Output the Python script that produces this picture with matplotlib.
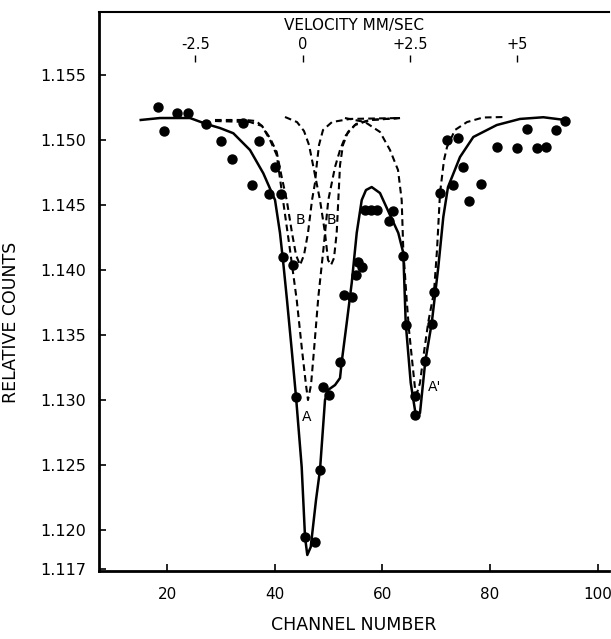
import matplotlib
matplotlib.use("Agg")
import matplotlib.pyplot as plt

# Points mesurés (canal, comptage relatif)
chan_pts = [18.27, 19.44, 21.91, 23.96, 27.30, 30.03, 32.07, 34.06, 35.78, 37.14,
            38.94, 40.11, 41.17, 41.45, 43.34, 44.01, 45.63, 47.48, 48.41, 49.03,
            50.14, 52.07, 52.78, 54.41, 55.04, 55.51, 56.21, 56.77, 57.83, 58.94,
            61.26, 61.97, 63.88, 64.38, 66.11, 66.05, 67.97, 69.16, 69.58, 70.70,
            71.94, 73.17, 74.09, 74.97, 76.08, 78.31, 81.23, 85.05, 86.91, 88.65,
            90.38, 92.18, 93.91]
count_pts = [1.15252, 1.15069, 1.15210, 1.15210, 1.15123, 1.14995, 1.14852, 1.15128, 1.14650, 1.14995,
             1.14588, 1.14792, 1.14588, 1.14098, 1.14038, 1.13023, 1.11944, 1.11910, 1.12462, 1.13098,
             1.13035, 1.13292, 1.13804, 1.13792, 1.13962, 1.14058, 1.14023, 1.14462, 1.14462, 1.14462,
             1.14379, 1.14456, 1.14110, 1.13577, 1.13031, 1.12885, 1.13300, 1.13582, 1.13827, 1.14595,
             1.15000, 1.14654, 1.15018, 1.14795, 1.14528, 1.14659, 1.14948, 1.14941, 1.15082, 1.14941,
             1.14946, 1.15077, 1.15146]

# Courbe ajustée (trait plein)
fit_ch = [15.12, 18.70, 24.27, 27.30, 29.84, 32.31, 35.41, 37.88, 40.06, 40.98,
          41.63, 42.28, 43.16, 43.96, 45.01, 45.63, 46.05, 46.69, 47.67, 48.41,
          49.34, 49.90, 51.20, 52.13, 52.44, 53.37, 54.30, 55.23, 56.16, 56.95,
          58.01, 59.55, 61.41, 62.95, 63.88, 64.33, 65.26, 66.19, 66.98, 67.97,
          69.16, 70.38, 71.31, 72.18, 74.41, 76.88, 81.23, 85.55, 89.88, 93.91]
fit_v = [1.15154, 1.15169, 1.15169, 1.15123, 1.15092, 1.15052, 1.14923, 1.14744, 1.14538, 1.14285,
         1.14038, 1.13769, 1.13385, 1.13023, 1.12485, 1.11946, 1.11808, 1.11869, 1.12231, 1.12462,
         1.13000, 1.13077, 1.13115, 1.13169, 1.13292, 1.13592, 1.13900, 1.14285, 1.14538, 1.14615,
         1.14638, 1.14592, 1.14423, 1.14285, 1.14131, 1.13592, 1.13131, 1.12885, 1.12900, 1.13300,
         1.13592, 1.14023, 1.14408, 1.14638, 1.14869, 1.15023, 1.15115, 1.15162, 1.15175, 1.15154]

# Composantes (tirets) A, B, B, A'
a_ch = [28.91, 34.48, 36.53, 37.64, 39.13, 40.37, 41.54, 42.84, 44.09, 45.07, 45.81, 46.18,
        46.74, 47.30, 48.10, 49.03, 49.95, 51.20, 52.13, 53.24, 54.91, 57.70, 63.27]
a_v = [1.15154, 1.15154, 1.15146, 1.15108, 1.15000, 1.14885, 1.14538, 1.14154, 1.13769, 1.13385,
       1.13115, 1.13000, 1.13115, 1.13385, 1.13792, 1.14154, 1.14538, 1.14792, 1.14923, 1.15038,
       1.15115, 1.15154, 1.15169]

b1_ch = [28.91, 35.41, 37.64, 39.13, 40.37, 41.30, 42.23, 43.21, 43.96, 44.70, 45.44, 46.18,
         46.93, 47.48, 47.80, 48.23, 48.97, 50.64, 53.98, 63.27]
b1_v = [1.15146, 1.15138, 1.15108, 1.15015, 1.14908, 1.14715, 1.14538, 1.14285, 1.14115, 1.14038,
        1.14115, 1.14285, 1.14538, 1.14669, 1.14808, 1.14962, 1.15077, 1.15138, 1.15162, 1.15169]

b2_ch = [41.91, 44.14, 45.44, 46.37, 46.93, 47.48, 48.41, 49.34, 49.90, 50.45, 51.01, 51.51,
         51.81, 52.13, 52.68, 53.61, 55.10, 57.70, 63.27]
b2_v = [1.15177, 1.15138, 1.15069, 1.14962, 1.14846, 1.14731, 1.14538, 1.14285, 1.14077, 1.14038,
        1.14092, 1.14285, 1.14538, 1.14808, 1.14962, 1.15062, 1.15123, 1.15154, 1.15169]

a2_ch = [53.05, 56.77, 59.55, 61.41, 62.90, 63.58, 63.88, 64.51, 64.94, 65.45, 66.05, 66.37,
         66.98, 67.60, 68.52, 69.58, 70.14, 70.70, 71.44, 72.00, 73.48, 75.71, 78.68, 82.77]
a2_v = [1.15169, 1.15138, 1.15062, 1.14923, 1.14769, 1.14538, 1.14154, 1.13769, 1.13538, 1.13331,
        1.13092, 1.13046, 1.13131, 1.13331, 1.13600, 1.13831, 1.14154, 1.14592, 1.14846, 1.14946,
        1.15077, 1.15138, 1.15173, 1.15177]

y_ticks = [1.117, 1.120, 1.125, 1.130, 1.135, 1.140, 1.145, 1.150, 1.155]
x_ticks = [20, 40, 60, 80, 100]
vel_ticks = [-2.5, 0, 2.5, 5]
vel_labels = ["-2.5", "0", "+2.5", "+5"]

# relation canal <-> vitesse
ch0, ch_per_mm = 45.2, 7.97

fig = plt.figure(figsize=(6.11, 6.39), dpi=100)
ax = fig.add_axes([99 / 611, 1 - 571 / 639, 510 / 611, 559 / 639])

for cx, cy in [(a_ch, a_v), (b1_ch, b1_v), (b2_ch, b2_v), (a2_ch, a2_v)]:
    ax.plot(cx, cy, color="black", linewidth=1.5, dashes=(3.2, 2.0))
ax.plot(fit_ch, fit_v, color="black", linewidth=1.8)
ax.scatter(chan_pts, count_pts, s=42, color="black", zorder=5)

# étiquettes des composantes
ax.text(45.94, 1.12872, "A", fontsize=10, ha="center", va="center")
ax.text(44.70, 1.14385, "B", fontsize=10, ha="center", va="center")
ax.text(50.58, 1.14385, "B", fontsize=10, ha="center", va="center")
ax.text(69.70, 1.13098, "A'", fontsize=10, ha="center", va="center")

ax.set_xlim(7.37, 102.08)
ax.set_ylim(1.116846, 1.159846)
ax.set_xticks(x_ticks)
ax.set_yticks(y_ticks, labels=[f"{t:.3f}" for t in y_ticks])
ax.tick_params(direction="in", length=5, width=1.2, labelsize=11.5)
ax.tick_params(axis="x", pad=11.5, labelsize=11)
ax.tick_params(axis="y", pad=9)

ax.spines["left"].set_linewidth(2)
ax.spines["bottom"].set_linewidth(2)
ax.spines["top"].set_linewidth(1.5)
ax.spines["right"].set_visible(False)

ax.set_xlabel("CHANNEL NUMBER", fontsize=12.5, labelpad=10)
ax.set_ylabel("RELATIVE COUNTS", fontsize=12.5)
ax.yaxis.set_label_coords(-0.155, 0.445)

# axe des vitesses dans le cadre
secax = ax.secondary_xaxis(0.9106, functions=(lambda c: (c - ch0) / ch_per_mm,
                                               lambda v: ch0 + ch_per_mm * v))
secax.set_xticks(vel_ticks, labels=vel_labels)
for s in secax.spines.values():
    s.set_visible(False)
secax.tick_params(direction="out", length=5, width=1, pad=2, labelsize=10.5)
secax.set_xlabel("VELOCITY MM/SEC", fontsize=11, labelpad=5)

fig.savefig("out.png", dpi=100)
